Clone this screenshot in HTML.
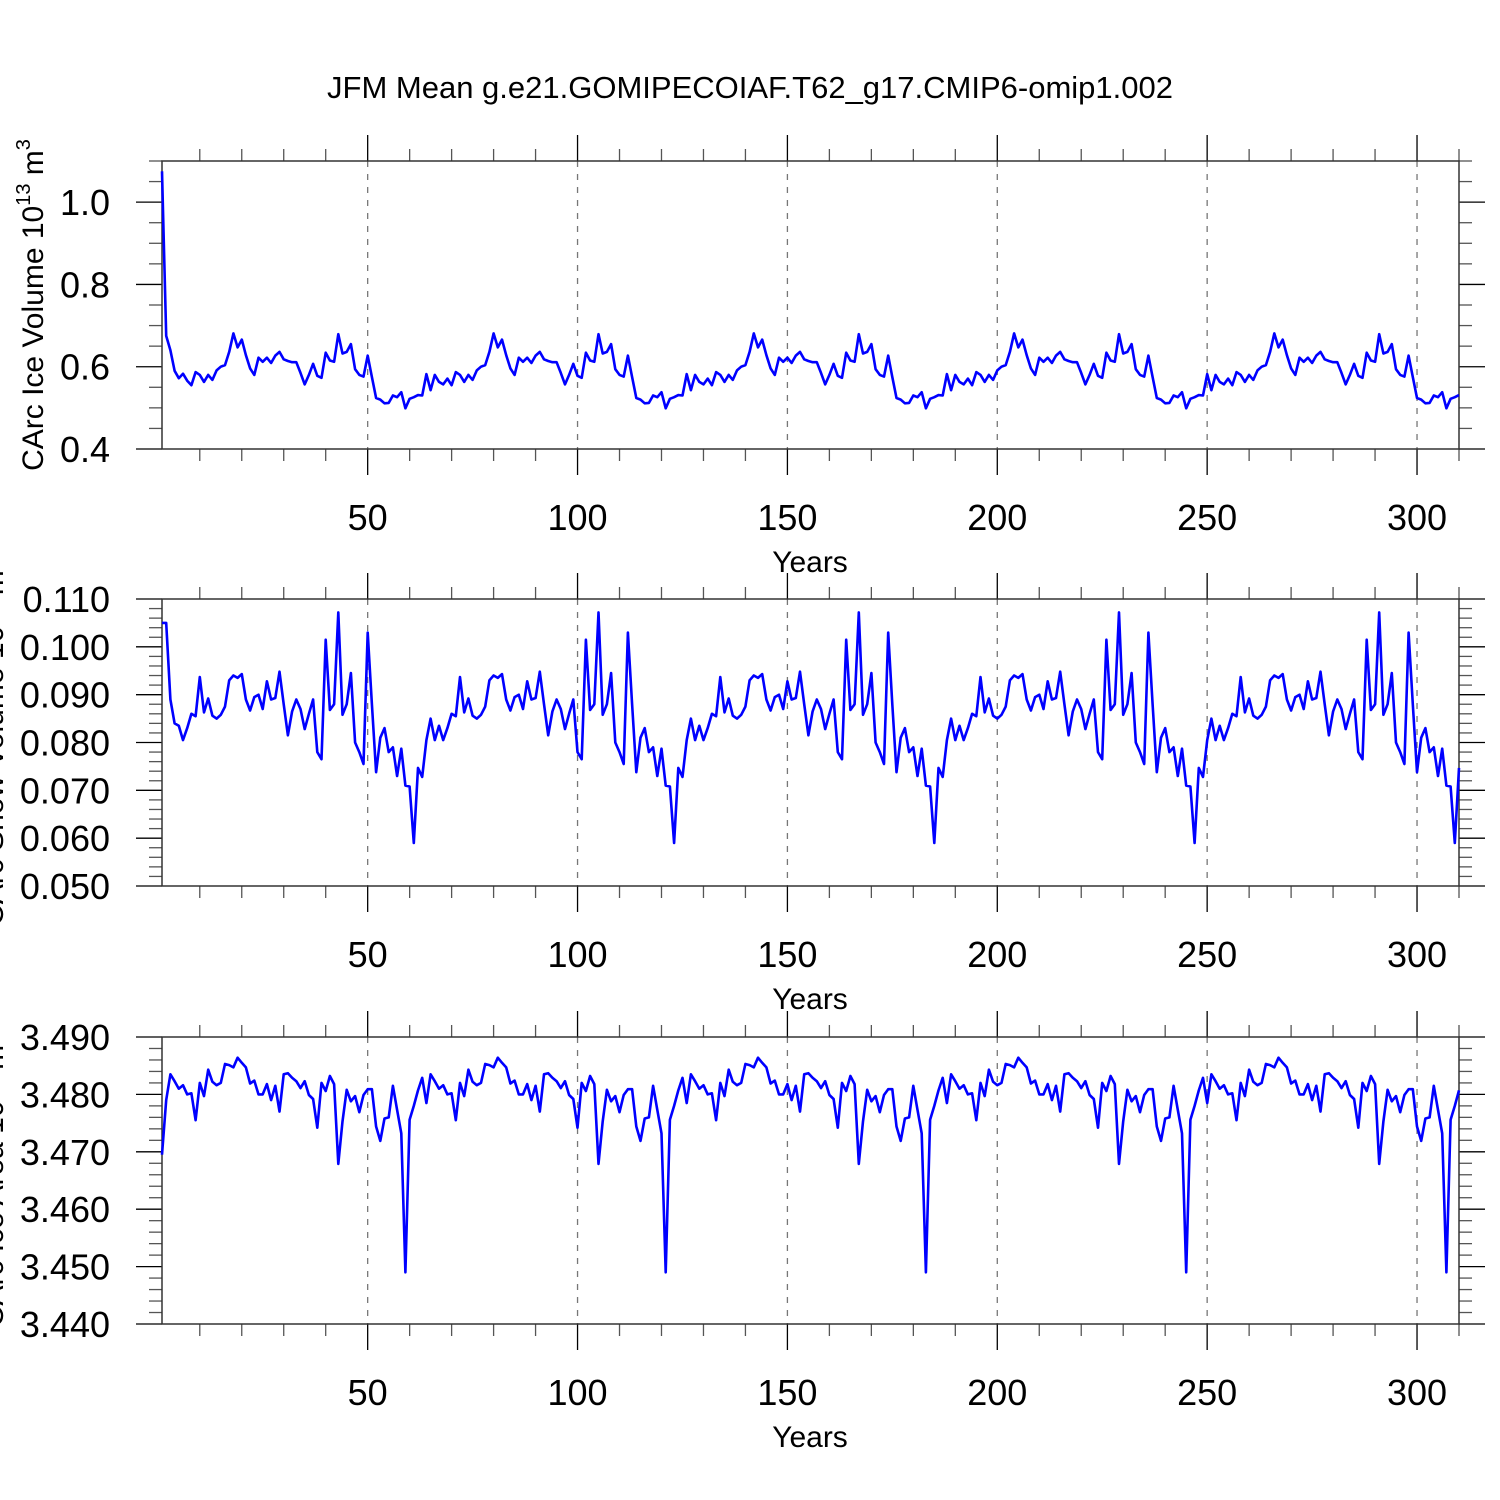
<!DOCTYPE html>
<html><head><meta charset="utf-8"><style>
html,body{margin:0;padding:0;background:#fff;width:1500px;height:1500px;overflow:hidden}
svg{display:block;font-family:"Liberation Sans",Arial,sans-serif}
</style></head><body>
<svg id="chart" width="1500" height="1500" viewBox="0 0 1500 1500" xmlns="http://www.w3.org/2000/svg">
<text x="750" y="98" font-size="31" text-anchor="middle">JFM Mean g.e21.GOMIPECOIAF.T62_g17.CMIP6-omip1.002</text>
</svg>
<script>
const xTicks = [50,100,150,200,250,300];
const p1Ticks = [0.4,0.6,0.8,1.0];
const p1Labels = ["0.4","0.6","0.8","1.0"];
const p2Ticks = [0.05,0.06,0.07,0.08,0.09,0.10,0.11];
const p2Labels = ["0.050","0.060","0.070","0.080","0.090","0.100","0.110"];
const p3Ticks = [3.44,3.45,3.46,3.47,3.48,3.49];
const p3Labels = ["3.440","3.450","3.460","3.470","3.480","3.490"];

const iceVolume = [1.075,0.675,0.64,0.59,0.572,0.583,0.566,
0.555,0.587,
0.580,0.563,0.580,0.568,0.591,0.600,0.604,0.636,0.681,0.647,
0.666,0.628,0.596,0.580,0.622,0.612,0.622,0.609,0.627,0.636,
0.618,0.614,0.611,0.611,0.585,0.557,0.580,0.607,0.578,0.573,
0.634,0.615,0.612,0.679,0.632,0.636,0.655,0.594,0.580,0.576,
0.627,0.575,0.524,0.520,0.511,0.512,0.530,0.526,0.538,0.499,
0.522,0.526,
0.531,0.530,0.582,0.543,0.580,0.563,0.557,0.571,0.555,0.587,
0.580,0.563,0.580,0.568,0.591,0.600,0.604,0.636,0.681,0.647,
0.666,0.628,0.596,0.580,0.622,0.612,0.622,0.609,0.627,0.636,
0.618,0.614,0.611,0.611,0.585,0.557,0.580,0.607,0.578,0.573,
0.634,0.615,0.612,0.679,0.632,0.636,0.655,0.594,0.580,0.576,
0.627,0.575,0.524,0.520,0.511,0.512,0.530,0.526,0.538,0.499,
0.522,0.526,
0.531,0.530,0.582,0.543,0.580,0.563,0.557,0.571,0.555,0.587,
0.580,0.563,0.580,0.568,0.591,0.600,0.604,0.636,0.681,0.647,
0.666,0.628,0.596,0.580,0.622,0.612,0.622,0.609,0.627,0.636,
0.618,0.614,0.611,0.611,0.585,0.557,0.580,0.607,0.578,0.573,
0.634,0.615,0.612,0.679,0.632,0.636,0.655,0.594,0.580,0.576,
0.627,0.575,0.524,0.520,0.511,0.512,0.530,0.526,0.538,0.499,
0.522,0.526,
0.531,0.530,0.582,0.543,0.580,0.563,0.557,0.571,0.555,0.587,
0.580,0.563,0.580,0.568,0.591,0.600,0.604,0.636,0.681,0.647,
0.666,0.628,0.596,0.580,0.622,0.612,0.622,0.609,0.627,0.636,
0.618,0.614,0.611,0.611,0.585,0.557,0.580,0.607,0.578,0.573,
0.634,0.615,0.612,0.679,0.632,0.636,0.655,0.594,0.580,0.576,
0.627,0.575,0.524,0.520,0.511,0.512,0.530,0.526,0.538,0.499,
0.522,0.526,
0.531,0.530,0.582,0.543,0.580,0.563,0.557,0.571,0.555,0.587,
0.580,0.563,0.580,0.568,0.591,0.600,0.604,0.636,0.681,0.647,
0.666,0.628,0.596,0.580,0.622,0.612,0.622,0.609,0.627,0.636,
0.618,0.614,0.611,0.611,0.585,0.557,0.580,0.607,0.578,0.573,
0.634,0.615,0.612,0.679,0.632,0.636,0.655,0.594,0.580,0.576,
0.627,0.575,0.524,0.520,0.511,0.512,0.530,0.526,0.538,0.499,
0.522,0.526,
0.531];

const snowVolume = [0.105,0.105,0.089,0.084,
0.0835,0.0805,0.083,0.086,0.0855,
0.0937,0.0863,0.0892,0.0856,0.085,0.0858,0.0875,0.093,0.094,0.0935,
0.0943,0.089,0.0867,0.0895,0.090,0.087,0.0928,0.089,0.0893,0.0948,
0.088,0.0815,0.0865,0.089,0.087,0.0828,0.086,0.089,0.078,0.0765,
0.1015,0.0868,0.088,0.1072,0.0858,0.088,0.0945,0.080,0.078,0.0755,
0.103,0.088,0.0738,0.081,0.083,0.078,0.079,0.073,0.0787,0.071,
0.0708,0.059,
0.0747,0.0728,0.0805,0.085,0.0805,0.0835,0.0805,0.083,0.086,0.0855,
0.0937,0.0863,0.0892,0.0856,0.085,0.0858,0.0875,0.093,0.094,0.0935,
0.0943,0.089,0.0867,0.0895,0.090,0.087,0.0928,0.089,0.0893,0.0948,
0.088,0.0815,0.0865,0.089,0.087,0.0828,0.086,0.089,0.078,0.0765,
0.1015,0.0868,0.088,0.1072,0.0858,0.088,0.0945,0.080,0.078,0.0755,
0.103,0.088,0.0738,0.081,0.083,0.078,0.079,0.073,0.0787,0.071,
0.0708,0.059,
0.0747,0.0728,0.0805,0.085,0.0805,0.0835,0.0805,0.083,0.086,0.0855,
0.0937,0.0863,0.0892,0.0856,0.085,0.0858,0.0875,0.093,0.094,0.0935,
0.0943,0.089,0.0867,0.0895,0.090,0.087,0.0928,0.089,0.0893,0.0948,
0.088,0.0815,0.0865,0.089,0.087,0.0828,0.086,0.089,0.078,0.0765,
0.1015,0.0868,0.088,0.1072,0.0858,0.088,0.0945,0.080,0.078,0.0755,
0.103,0.088,0.0738,0.081,0.083,0.078,0.079,0.073,0.0787,0.071,
0.0708,0.059,
0.0747,0.0728,0.0805,0.085,0.0805,0.0835,0.0805,0.083,0.086,0.0855,
0.0937,0.0863,0.0892,0.0856,0.085,0.0858,0.0875,0.093,0.094,0.0935,
0.0943,0.089,0.0867,0.0895,0.090,0.087,0.0928,0.089,0.0893,0.0948,
0.088,0.0815,0.0865,0.089,0.087,0.0828,0.086,0.089,0.078,0.0765,
0.1015,0.0868,0.088,0.1072,0.0858,0.088,0.0945,0.080,0.078,0.0755,
0.103,0.088,0.0738,0.081,0.083,0.078,0.079,0.073,0.0787,0.071,
0.0708,0.059,
0.0747,0.0728,0.0805,0.085,0.0805,0.0835,0.0805,0.083,0.086,0.0855,
0.0937,0.0863,0.0892,0.0856,0.085,0.0858,0.0875,0.093,0.094,0.0935,
0.0943,0.089,0.0867,0.0895,0.090,0.087,0.0928,0.089,0.0893,0.0948,
0.088,0.0815,0.0865,0.089,0.087,0.0828,0.086,0.089,0.078,0.0765,
0.1015,0.0868,0.088,0.1072,0.0858,0.088,0.0945,0.080,0.078,0.0755,
0.103,0.088,0.0738,0.081,0.083,0.078,0.079,0.073,0.0787,0.071,
0.0708,0.059,
0.0747];

const iceArea = [3.4695,3.479,
3.4835,3.4823,3.481,3.4816,3.48,3.4802,3.4755,
3.482,3.4797,3.4843,3.4822,3.4816,3.482,3.4853,3.4851,3.4847,3.4864,
3.4855,3.4847,3.4819,3.4824,3.48,3.48,3.4818,3.479,3.4815,3.477,
3.4835,3.4837,3.4829,3.4823,3.4811,3.4823,3.4799,3.4792,3.4742,3.482,
3.4806,3.4832,3.4818,3.4679,3.4753,3.4808,3.4788,3.4797,3.4769,3.4799,
3.4809,3.4809,3.4744,3.4719,3.4758,3.476,3.4815,3.4773,3.4732,3.449,
3.4756,3.478,
3.4807,3.4829,3.4785,3.4835,3.4823,3.481,3.4816,3.48,3.4802,3.4755,
3.482,3.4797,3.4843,3.4822,3.4816,3.482,3.4853,3.4851,3.4847,3.4864,
3.4855,3.4847,3.4819,3.4824,3.48,3.48,3.4818,3.479,3.4815,3.477,
3.4835,3.4837,3.4829,3.4823,3.4811,3.4823,3.4799,3.4792,3.4742,3.482,
3.4806,3.4832,3.4818,3.4679,3.4753,3.4808,3.4788,3.4797,3.4769,3.4799,
3.4809,3.4809,3.4744,3.4719,3.4758,3.476,3.4815,3.4773,3.4732,3.449,
3.4756,3.478,
3.4807,3.4829,3.4785,3.4835,3.4823,3.481,3.4816,3.48,3.4802,3.4755,
3.482,3.4797,3.4843,3.4822,3.4816,3.482,3.4853,3.4851,3.4847,3.4864,
3.4855,3.4847,3.4819,3.4824,3.48,3.48,3.4818,3.479,3.4815,3.477,
3.4835,3.4837,3.4829,3.4823,3.4811,3.4823,3.4799,3.4792,3.4742,3.482,
3.4806,3.4832,3.4818,3.4679,3.4753,3.4808,3.4788,3.4797,3.4769,3.4799,
3.4809,3.4809,3.4744,3.4719,3.4758,3.476,3.4815,3.4773,3.4732,3.449,
3.4756,3.478,
3.4807,3.4829,3.4785,3.4835,3.4823,3.481,3.4816,3.48,3.4802,3.4755,
3.482,3.4797,3.4843,3.4822,3.4816,3.482,3.4853,3.4851,3.4847,3.4864,
3.4855,3.4847,3.4819,3.4824,3.48,3.48,3.4818,3.479,3.4815,3.477,
3.4835,3.4837,3.4829,3.4823,3.4811,3.4823,3.4799,3.4792,3.4742,3.482,
3.4806,3.4832,3.4818,3.4679,3.4753,3.4808,3.4788,3.4797,3.4769,3.4799,
3.4809,3.4809,3.4744,3.4719,3.4758,3.476,3.4815,3.4773,3.4732,3.449,
3.4756,3.478,
3.4807,3.4829,3.4785,3.4835,3.4823,3.481,3.4816,3.48,3.4802,3.4755,
3.482,3.4797,3.4843,3.4822,3.4816,3.482,3.4853,3.4851,3.4847,3.4864,
3.4855,3.4847,3.4819,3.4824,3.48,3.48,3.4818,3.479,3.4815,3.477,
3.4835,3.4837,3.4829,3.4823,3.4811,3.4823,3.4799,3.4792,3.4742,3.482,
3.4806,3.4832,3.4818,3.4679,3.4753,3.4808,3.4788,3.4797,3.4769,3.4799,
3.4809,3.4809,3.4744,3.4719,3.4758,3.476,3.4815,3.4773,3.4732,3.449,
3.4756,3.478,
3.4807];

const NS = "http://www.w3.org/2000/svg";
const svg = document.getElementById("chart");
const X0 = 162, X1 = 1459, YR0 = 1, YR1 = 310;
function xs(v){ return X0 + (v - YR0) / (YR1 - YR0) * (X1 - X0); }
function mk(tag, attrs, parent){
  const e = document.createElementNS(NS, tag);
  for (const k in attrs) e.setAttribute(k, attrs[k]);
  (parent || svg).appendChild(e);
  return e;
}

function panel(cfg){
  const g = mk("g", {});
  
  
  const top = cfg.top, bot = cfg.bot;
  const ys = v => bot - (v - cfg.min) / (cfg.max - cfg.min) * (bot - top);
  xTicks.forEach(t => {
    const l = mk("line", {x1: xs(t), x2: xs(t), y1: top, y2: bot, stroke: "#777", "stroke-width": 1.3, "stroke-dasharray": "6,7"}, g);
    
    
  });
  for (let t = 10; t <= 310; t += 10) {
    const major = t % 50 === 0;
    const len = major ? 26 : 12;
    const col = major ? "#000" : "#555";
    mk("line", {x1: xs(t), x2: xs(t), y1: top, y2: top - len, stroke: col, "stroke-width": 1.3}, g);
    mk("line", {x1: xs(t), x2: xs(t), y1: bot, y2: bot + len, stroke: col, "stroke-width": 1.3}, g);
  }
  const step = cfg.minor;
  const n = Math.round((cfg.max - cfg.min) / step);
  for (let i = 0; i <= n; i++) {
    const v = cfg.min + i * step;
    const major = cfg.ticks.some(t => Math.abs(t - v) < step / 10);
    const len = major ? 26 : 13;
    const y = ys(v);
    mk("line", {x1: X0, x2: X0 - len, y1: y, y2: y, stroke: major ? "#000" : "#555", "stroke-width": 1.3}, g);
    mk("line", {x1: X1, x2: X1 + len, y1: y, y2: y, stroke: major ? "#000" : "#555", "stroke-width": 1.3}, g);
  }
  const fr = mk("rect", {x: X0, y: top, width: X1 - X0, height: bot - top, fill: "none", stroke: "#333", "stroke-width": 1.5}, g);
  
  
  cfg.ticks.forEach((t, i) => {
    const tx = mk("text", {x: 110, y: ys(t) + 13, "font-size": 36, "text-anchor": "end"}, g);
    tx.textContent = cfg.labels[i];
    
    
  });
  xTicks.forEach(t => {
    const tx = mk("text", {x: xs(t), y: bot + 81, "font-size": 36, "text-anchor": "middle"}, g);
    tx.textContent = String(t);
    
    
  });
  const xt = mk("text", {x: 810, y: bot + 123, "font-size": 30, "text-anchor": "middle"}, g);
  xt.textContent = "Years";
  
  
  const yt = mk("text", {x: 0, y: 0, "font-size": 30, "text-anchor": "middle", transform: `translate(${cfg.ytx},${(top + bot) / 2}) rotate(-90)`}, g);
  yt.innerHTML = cfg.ytitle;
  
  
  const pts = cfg.data.map((v, i) => xs(i + 1).toFixed(1) + "," + ys(v).toFixed(1)).join(" ");
  const pl = mk("polyline", {points: pts, fill: "none", stroke: "#0000ff", "stroke-width": 2.6, "stroke-linejoin": "round"}, g);
  
  
}

panel({name: "panel-ice-volume", series: "ice-volume-line", top: 161, bot: 449, min: 0.4, max: 1.1, minor: 0.05,
  ticks: p1Ticks, labels: p1Labels, data: iceVolume, ytx: 43,
  ytitle: 'CArc Ice Volume 10<tspan dy="-13" font-size="20">13</tspan><tspan dy="13"> m</tspan><tspan dy="-13" font-size="20">3</tspan>'});
panel({name: "panel-snow-volume", series: "snow-volume-line", top: 599, bot: 886, min: 0.05, max: 0.11, minor: 0.002,
  ticks: p2Ticks, labels: p2Labels, data: snowVolume, ytx: 3,
  ytitle: 'CArc Snow Volume 10<tspan dy="-13" font-size="20">13</tspan><tspan dy="13"> m</tspan><tspan dy="-13" font-size="20">3</tspan>'});
panel({name: "panel-ice-area", series: "ice-area-line", top: 1037, bot: 1324, min: 3.44, max: 3.49, minor: 0.002,
  ticks: p3Ticks, labels: p3Labels, data: iceArea, ytx: 3,
  ytitle: 'CArc Ice Area 10<tspan dy="-13" font-size="20">13</tspan><tspan dy="13"> m</tspan><tspan dy="-13" font-size="20">2</tspan>'});
</script>
</body></html>
